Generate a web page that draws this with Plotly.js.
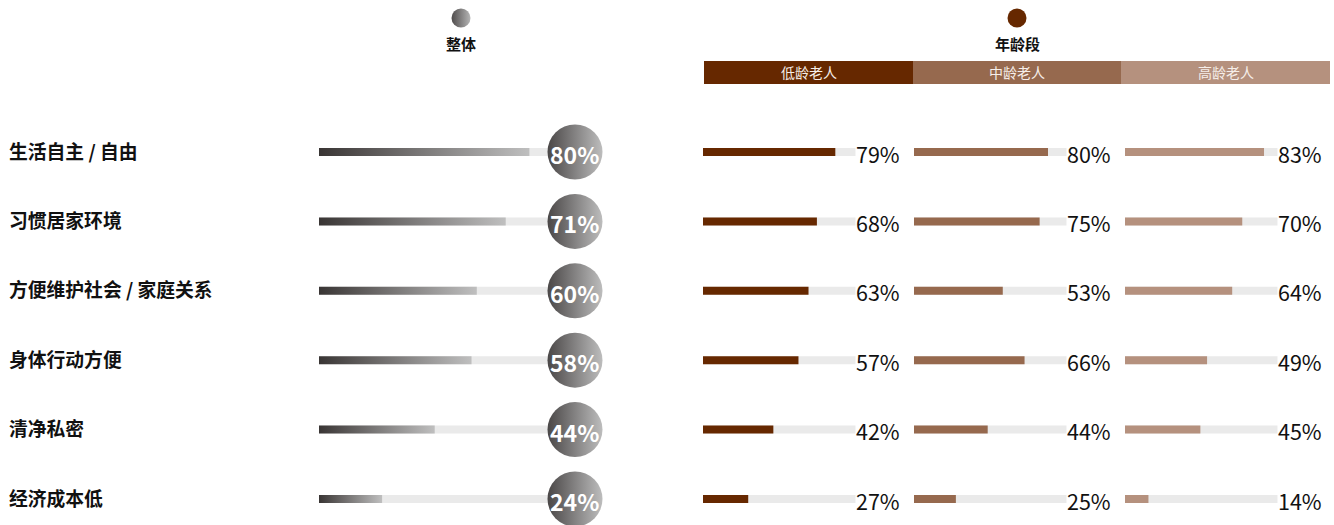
<!DOCTYPE html>
<html><head><meta charset="utf-8">
<script src="https://cdn.plot.ly/plotly-3.0.1.min.js"></script>
<style>html,body{margin:0;padding:0;background:#fff}#chart{width:1334px;height:525px}</style>
</head><body><div id="chart"></div>
<script>
// ---------- data ----------
const categories = ['生活自主 / 自由','习惯居家环境','方便维护社会 / 家庭关系','身体行动方便','清净私密','经济成本低'];
const overall  = [80, 71, 60, 58, 44, 24];
const lowAge   = [79, 68, 63, 57, 42, 27];
const midAge   = [80, 75, 53, 66, 44, 25];
const highAge  = [83, 70, 64, 49, 45, 14];
const groupNames = ['低龄老人','中龄老人','高龄老人'];
const overallLabel = '整体';
const groupLabel = '年龄段';
const FULL = 100;

// ---------- layout constants ----------
const W = 1334, H = 525;
const FONT = '"Noto Sans CJK SC", "Noto Sans", sans-serif';
const ROW0 = 152, ROWSTEP = 69.4;
const py = p => (p - ROW0) / ROWSTEP;          // pixel row -> y units
const BARW = 8 / ROWSTEP;
const idx = categories.map((_, i) => i);
const groupSeries = [lowAge, midAge, highAge];
const groupColors = ['#662800', '#96694e', '#b5917e'];
const trackColor = '#eaeaea';
const OV_X0 = 319, OV_PX = 2.63;
const GRP_X0 = [703, 914, 1125], GRP_PX = 1.675, GRP_TXT = 198;
const CIRCLE_X = 575;

const traces = [];
// overall track
traces.push({type:'bar', orientation:'h', x: idx.map(() => FULL), y: idx, width: BARW,
  marker:{color: trackColor}, xaxis:'x', yaxis:'y', hoverinfo:'skip', showlegend:false});
// overall gradient bars
overall.forEach((v, i) => {
  traces.push({type:'scatter', mode:'lines', x:[0, v, v, 0, 0],
    y:[i - BARW/2, i - BARW/2, i + BARW/2, i + BARW/2, i - BARW/2],
    fill:'toself', line:{width:0, color:'rgba(0,0,0,0)'},
    fillgradient:{type:'horizontal', colorscale:[[0,'#393534'],[1,'#bfbfbf']]},
    xaxis:'x', yaxis:'y', hoverinfo:'skip', showlegend:false});
});
// group tracks and bars
groupSeries.forEach((s, g) => {
  const ax = 'x' + (g + 2);
  traces.push({type:'bar', orientation:'h', x: idx.map(() => FULL), y: idx, width: BARW,
    marker:{color: trackColor}, xaxis: ax, yaxis:'y', hoverinfo:'skip', showlegend:false});
  traces.push({type:'bar', orientation:'h', x: s, y: idx, width: BARW,
    marker:{color: groupColors[g]}, xaxis: ax, yaxis:'y', hoverinfo:'skip', showlegend:false});
});
// overall circles
traces.push({type:'scatter', mode:'markers', x: idx.map(() => CIRCLE_X), y: idx,
  marker:{size: 55, color:'#4a4747', gradient:{type:'horizontal', color:'#bdbdbd'}, line:{width:0}},
  cliponaxis:false, xaxis:'x5', yaxis:'y', hoverinfo:'skip', showlegend:false});
// header legend dots
traces.push({type:'scatter', mode:'markers', x:[461, 1017], y:[py(18), py(18)],
  marker:{size: 19, color:['#4f4c4c', groupColors[0]], gradient:{type:'horizontal', color:['#b5b5b5', groupColors[0]]}, line:{width:0}},
  cliponaxis:false, xaxis:'x5', yaxis:'y', hoverinfo:'skip', showlegend:false});

const annotations = [];
categories.forEach((c, i) => annotations.push({xref:'paper', yref:'y', x: 7 / W, y: i, yshift: 2,
  xanchor:'left', yanchor:'middle', showarrow:false, text: c,
  font:{family: FONT, size: 18.8, color:'#111', weight: 700}}));
overall.forEach((v, i) => annotations.push({xref:'x5', yref:'y', x: CIRCLE_X - 1, y: i, yshift: -2,
  xanchor:'center', yanchor:'middle', showarrow:false, text: v + '%',
  font:{family: FONT, size: 23, color:'#ffffff', weight: 700}}));
groupSeries.forEach((s, g) => s.forEach((v, i) => annotations.push({xref:'paper', yref:'y',
  x: (GRP_X0[g] + GRP_TXT) / W, y: i, yshift: -1, xanchor:'right', yanchor:'middle', showarrow:false,
  text: v + '%', bgcolor:'#ffffff', borderpad: 0,
  font:{family: FONT, size: 21.5, color:'#111'}})));
annotations.push({xref:'paper', yref:'paper', x: 461 / W, y: 1 - 43 / H, xanchor:'center', yanchor:'middle',
  showarrow:false, text: overallLabel, font:{family: FONT, size: 15, color:'#111', weight: 700}});
annotations.push({xref:'paper', yref:'paper', x: 1017 / W, y: 1 - 43 / H, xanchor:'center', yanchor:'middle',
  showarrow:false, text: groupLabel, font:{family: FONT, size: 15, color:'#111', weight: 700}});

const HDR = [[704, 913], [913, 1121], [1121, 1330]];
const shapes = [];
HDR.forEach((h, g) => {
  shapes.push({type:'rect', xref:'paper', yref:'paper', x0: h[0] / W, x1: h[1] / W,
    y0: 1 - 84 / H, y1: 1 - 61 / H, fillcolor: groupColors[g], line:{width:0}, layer:'below'});
  annotations.push({xref:'paper', yref:'paper', x: (h[0] + h[1]) / 2 / W, y: 1 - 72.5 / H,
    xanchor:'center', yanchor:'middle', showarrow:false, text: groupNames[g],
    font:{family: FONT, size: 14, color:'#f6eee9'}});
});

const hiddenAx = (domain, range) => ({domain, range, visible:false, fixedrange:true, anchor:'y'});
const layout = {
  width: W, height: H, margin:{l:0, r:0, t:0, b:0},
  paper_bgcolor:'#ffffff', plot_bgcolor:'rgba(0,0,0,0)',
  barmode:'overlay', showlegend:false,
  font:{family: FONT},
  xaxis: hiddenAx([OV_X0 / W, (OV_X0 + 100 * OV_PX) / W], [0, 100]),
  xaxis2: hiddenAx([GRP_X0[0] / W, (GRP_X0[0] + 100 * GRP_PX) / W], [0, 100]),
  xaxis3: hiddenAx([GRP_X0[1] / W, (GRP_X0[1] + 100 * GRP_PX) / W], [0, 100]),
  xaxis4: hiddenAx([GRP_X0[2] / W, (GRP_X0[2] + 100 * GRP_PX) / W], [0, 100]),
  xaxis5: hiddenAx([0, 1], [0, W]),
  yaxis: {domain:[0, 1], range:[(H - ROW0) / ROWSTEP, -ROW0 / ROWSTEP], visible:false, fixedrange:true},
  annotations, shapes
};
Plotly.newPlot('chart', traces, layout, {staticPlot:true, displayModeBar:false});
</script></body></html>
